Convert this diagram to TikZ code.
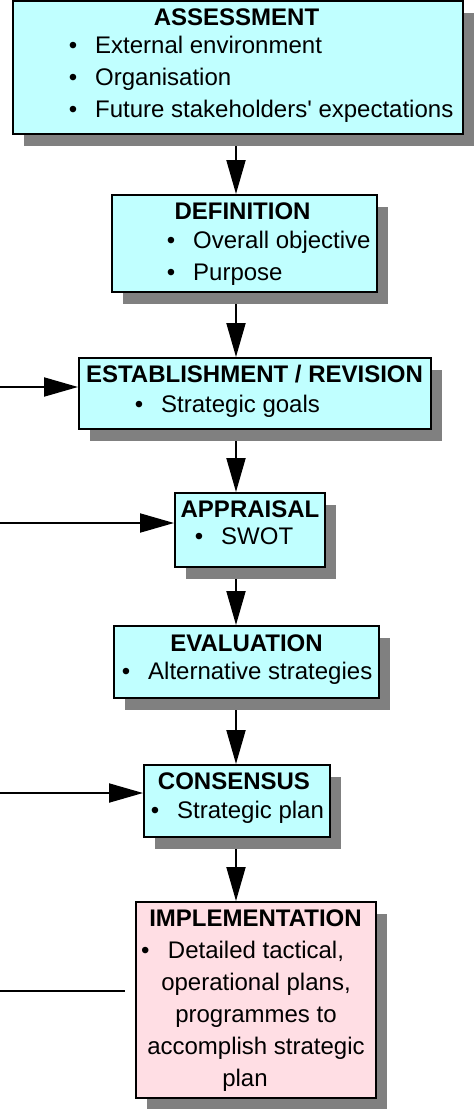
\documentclass[tikz,border=0pt]{standalone}
\usepackage{fontspec}
\setmainfont{Liberation Sans}
\usetikzlibrary{positioning,arrows.meta,shadows,backgrounds}
\definecolor{boxcyan}{RGB}{192,255,255}
\definecolor{boxpink}{RGB}{255,222,228}
\definecolor{shadowgray}{RGB}{128,128,128}

\begin{document}
\begin{tikzpicture}[x=1pt,y=-1pt,
	stage/.style={draw, line width=2pt, fill=boxcyan, inner sep=0pt,
		drop shadow={shadow xshift=11pt, shadow yshift=-12pt, fill=shadowgray, opacity=1}},
	head/.style={anchor=base, inner sep=0pt, font=\fontsize{24}{32}\selectfont\bfseries},
	item/.style={anchor=base west, inner sep=0pt, font=\fontsize{24}{32}\selectfont},
	flow/.style={line width=2pt, -{Triangle[length=34pt,width=19pt]}}]
	\useasboundingbox (0,0) rectangle (474,1109);

	% boxes
	\node[stage, minimum width=450pt, minimum height=133pt] (assess) at (238,67.5) {};
	\node[stage, minimum width=265pt, minimum height=97pt] (define) at (244.5,243.5) {};
	\node[stage, minimum width=352pt, minimum height=71pt] (establish) at (255,393.5) {};
	\node[stage, minimum width=150pt, minimum height=74pt] (appraise) at (250,530) {};
	\node[stage, minimum width=265pt, minimum height=72pt] (evaluate) at (246.5,662) {};
	\node[stage, minimum width=186pt, minimum height=72pt] (consent) at (237,801) {};
	\node[stage, fill=boxpink, minimum width=240pt, minimum height=196pt] (implement) at (256,1000) {};

	% texts
	\node[head] (assess-t) at (236.5,25) {ASSESSMENT};
	\node[item] (assess-1) at (95,53) {\llap{\textbullet\hspace{18pt}}External environment};
	\node[item] (assess-2) at (95,85) {\llap{\textbullet\hspace{18pt}}Organisation};
	\node[item] (assess-3) at (95,117) {\llap{\textbullet\hspace{18pt}}Future stakeholders\textquotesingle{} expectations};

	\node[head] (define-t) at (242.5,219) {DEFINITION};
	\node[item] (define-1) at (193,248) {\llap{\textbullet\hspace{18pt}}Overall objective};
	\node[item] (define-2) at (193,280) {\llap{\textbullet\hspace{18pt}}Purpose};

	\node[head] (establish-t) at (254.5,382) {ESTABLISHMENT / REVISION};
	\node[item] (establish-1) at (161,412) {\llap{\textbullet\hspace{18pt}}Strategic goals};

	\node[head] (appraise-t) at (250,517) {APPRAISAL};
	\node[item] (appraise-1) at (221,544) {\llap{\textbullet\hspace{18pt}}SWOT};

	\node[head] (evaluate-t) at (246.5,651) {EVALUATION};
	\node[item] (evaluate-1) at (148,679) {\llap{\textbullet\hspace{18pt}}Alternative strategies};

	\node[head] (consent-t) at (234,789) {CONSENSUS};
	\node[item] (consent-1) at (177,818) {\llap{\textbullet\hspace{18pt}}Strategic plan};

	\node[head] (implement-t) at (255.5,926) {IMPLEMENTATION};
	\node[item] (implement-b) at (141,958) {\textbullet};
	\node[item, anchor=base] (implement-1) at (256,958) {Detailed tactical,};
	\node[item, anchor=base] (implement-2) at (256,990) {operational plans,};
	\node[item, anchor=base] (implement-3) at (256,1022) {programmes to};
	\node[item, anchor=base] (implement-4) at (256,1054) {accomplish strategic};
	\node[item, anchor=base] (implement-5) at (245,1086) {plan};

	% connectors
	\coordinate (spine) at (236,0);
	\coordinate (in-1) at (0,387);
	\coordinate (in-2) at (0,523);
	\coordinate (in-3) at (0,793);
	\coordinate (in-4) at (0,991);
	\coordinate (out-4) at (125,991);
	\begin{scope}[on background layer]
	\draw[flow] (assess.south -| spine) -- (define.north -| spine);
	\draw[flow] (define.south -| spine) -- (establish.north -| spine);
	\draw[flow] (establish.south -| spine) -- (appraise.north -| spine);
	\draw[flow] (appraise.south -| spine) -- (evaluate.north -| spine);
	\draw[flow] (evaluate.south -| spine) -- (consent.north -| spine);
	\draw[flow] (consent.south -| spine) -- (implement.north -| spine);
	\draw[flow] (in-1) -- (in-1 -| establish.west);
	\draw[flow] (in-2) -- (in-2 -| appraise.west);
	\draw[flow] (in-3) -- (in-3 -| consent.west);
	\draw[line width=2pt] (in-4) -- (out-4);
	\end{scope}
\end{tikzpicture}
\end{document}
